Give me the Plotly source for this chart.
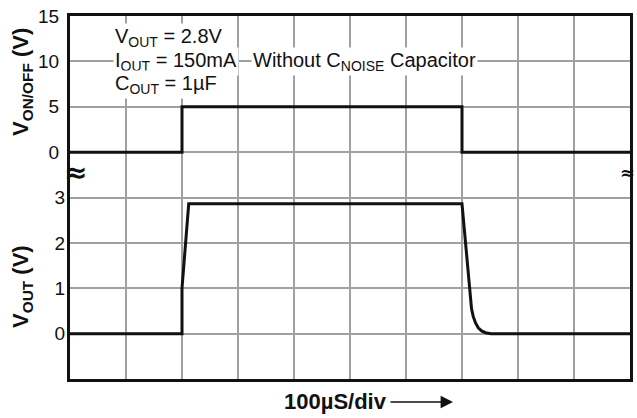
import plotly.graph_objects as go

# time axis in microseconds (100 µs/div)
t_onoff = [0, 200, 200, 700, 700, 1000]
v_onoff = [0, 0, 5, 5, 0, 0]

t_out = [0, 200, 200, 212, 700, 717, 720, 724, 729, 735, 742, 752, 1000]
v_out = [0, 0, 1.0, 2.86, 2.86, 0.55, 0.38, 0.24, 0.13, 0.06, 0.02, 0, 0]

top_ticks = [-20, -15, -10, -5, 0, 5, 10, 15]
top_ticktext = ["", "", "", "", "0", "5", "10", "15"]
bot_ticks = [0, 1, 2, 3]
bot_ticktext = ["0", "1", "2", "3"]

FONT = "Liberation Sans, Arial, Helvetica, sans-serif"
GRID = "#a0a0a0"

fig = go.Figure()
fig.add_trace(go.Scatter(x=t_onoff, y=v_onoff, mode="lines",
                         line=dict(color="#111", width=3), yaxis="y", showlegend=False))
fig.add_trace(go.Scatter(x=t_out, y=v_out, mode="lines",
                         line=dict(color="#111", width=3),
                         yaxis="y2", showlegend=False))

fig.update_layout(
    width=637, height=418,
    margin=dict(l=70, r=7, t=16, b=39, autoexpand=False),
    paper_bgcolor="white", plot_bgcolor="white",
    font=dict(family=FONT, color="#111"),
    xaxis=dict(range=[0, 1000], dtick=100, tick0=0, showticklabels=False,
               showgrid=True, gridcolor=GRID, gridwidth=1.5, zeroline=False,
               showline=True, linecolor="#111", linewidth=3, mirror=True, ticks="",
               automargin=False),
    yaxis=dict(range=[-25, 15], tickvals=top_ticks, ticktext=top_ticktext,
               showgrid=True, gridcolor=GRID, gridwidth=1.5, zeroline=False,
               showline=True, linecolor="#111", linewidth=3, mirror=True,
               ticks="", ticklabelstandoff=4, tickfont=dict(size=19, family=FONT),
               automargin=False),
    yaxis2=dict(range=[-1, 7], tickvals=bot_ticks, ticktext=bot_ticktext,
                overlaying="y", side="left", showgrid=False, zeroline=False,
                showline=False, ticks="", ticklabelstandoff=4,
                tickfont=dict(size=19, family=FONT), automargin=False),
)

ann_font = dict(size=20, family=FONT, color="#111")
fig.add_annotation(x=77, y=12.6, xref="x", yref="y", xanchor="left", yanchor="middle",
                   text="V<sub>OUT</sub> = 2.8V", showarrow=False, font=ann_font,
                   bgcolor="white", borderpad=1)
fig.add_annotation(x=77, y=10, xref="x", yref="y", xanchor="left", yanchor="middle",
                   text="I<sub>OUT</sub> = 150mA", showarrow=False, font=ann_font,
                   bgcolor="white", borderpad=1)
fig.add_annotation(x=77, y=7.4, xref="x", yref="y", xanchor="left", yanchor="middle",
                   text="C<sub>OUT</sub> = 1µF", showarrow=False, font=ann_font,
                   bgcolor="white", borderpad=1)
fig.add_annotation(x=323, y=10, xref="x", yref="y", xanchor="left", yanchor="middle",
                   text="Without C<sub>NOISE</sub> Capacitor", showarrow=False, font=ann_font,
                   bgcolor="white", borderpad=1)

# axis titles
fig.add_annotation(x=-48 / 560, y=1 - (82 - 16) / 363, xref="paper", yref="paper",
                   xanchor="center", yanchor="middle",
                   text="<b>V<sub>ON/OFF</sub> (V)</b>", textangle=-90, showarrow=False,
                   font=dict(size=22, family=FONT, color="#111"))
fig.add_annotation(x=-48 / 560, y=1 - (287 - 16) / 363, xref="paper", yref="paper",
                   xanchor="center", yanchor="middle",
                   text="<b>V<sub>OUT</sub> (V)</b>", textangle=-90, showarrow=False,
                   font=dict(size=22, family=FONT, color="#111"))
fig.add_annotation(x=(335 - 70) / 560, y=-(401 - 379) / 363, xref="paper", yref="paper",
                   xanchor="center", yanchor="middle",
                   text="<b>100µS/div</b>", showarrow=False,
                   font=dict(size=22, family=FONT, color="#111"))
fig.add_annotation(x=(453 - 70) / 560, y=-(402 - 379) / 363, xref="paper", yref="paper",
                   ax=-64, ay=0, text="", showarrow=True, arrowhead=2, arrowsize=1.9,
                   arrowwidth=1.3, arrowcolor="#111")

# axis-break marks
fig.add_annotation(x=(75 - 70) / 560, y=-2.2, xref="paper", yref="y", text="<b>≈</b>",
                   showarrow=False, xanchor="center", yanchor="middle",
                   font=dict(size=28, family="DejaVu Sans", color="#111"))
fig.add_annotation(x=(627 - 70) / 560, y=-2.2, xref="paper", yref="y", text="<b>≈</b>",
                   showarrow=False, xanchor="center", yanchor="middle",
                   font=dict(size=18, family="DejaVu Sans", color="#111"))

fig.write_html("out.html", post_script="document.body.style.margin='0';",
               config={"displayModeBar": False})
